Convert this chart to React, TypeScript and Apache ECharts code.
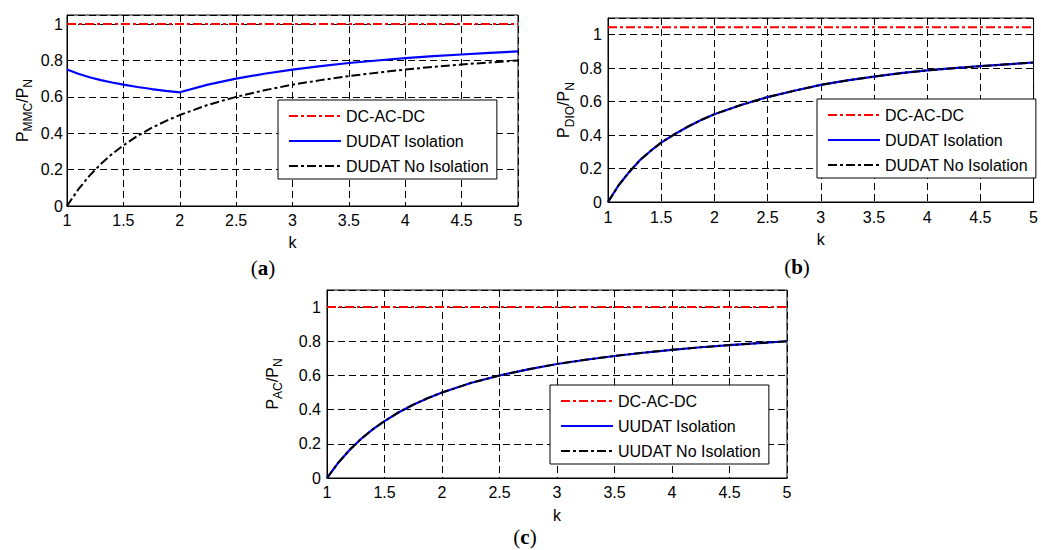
import React, { useEffect, useRef } from "react";
import * as echarts from "echarts";

// k values shared by the curves
const kCurve = [1, 1.1, 1.2, 1.3, 1.4, 1.5, 1.625, 1.75, 1.875, 2, 2.25, 2.5, 2.75, 3, 3.25, 3.5, 3.75, 4, 4.25, 4.5, 4.75, 5];
const kFlat = [1, 5];
const xTicks = ["1", "1.5", "2", "2.5", "3", "3.5", "4", "4.5", "5"];

// (a) MMC
const dcA = [1, 1];
const isoA = [0.75, 0.727, 0.708, 0.692, 0.679, 0.667, 0.654, 0.643, 0.633, 0.625, 0.667, 0.7, 0.727, 0.75, 0.769, 0.786, 0.8, 0.8125, 0.824, 0.833, 0.842, 0.85];
const noIsoA = [0, 0.091, 0.167, 0.231, 0.286, 0.333, 0.385, 0.429, 0.467, 0.5, 0.556, 0.6, 0.636, 0.667, 0.692, 0.714, 0.733, 0.75, 0.765, 0.778, 0.789, 0.8];

// (b) DIO
const dcB = [1.045, 1.045];
const isoB = [0, 0.1, 0.18, 0.25, 0.305, 0.355, 0.405, 0.45, 0.49, 0.525, 0.58, 0.627, 0.665, 0.7, 0.727, 0.75, 0.77, 0.787, 0.8, 0.812, 0.823, 0.834];
const noIsoB = [0, 0.1, 0.18, 0.25, 0.305, 0.355, 0.405, 0.45, 0.49, 0.525, 0.58, 0.627, 0.665, 0.7, 0.727, 0.75, 0.77, 0.787, 0.8, 0.812, 0.823, 0.834];

// (c) AC
const dcC = [1, 1];
const isoC = [0, 0.091, 0.167, 0.231, 0.286, 0.333, 0.385, 0.429, 0.467, 0.5, 0.556, 0.6, 0.636, 0.667, 0.692, 0.714, 0.733, 0.75, 0.765, 0.778, 0.789, 0.8];
const noIsoC = [0, 0.091, 0.167, 0.231, 0.286, 0.333, 0.385, 0.429, 0.467, 0.5, 0.556, 0.6, 0.636, 0.667, 0.692, 0.714, 0.733, 0.75, 0.765, 0.778, 0.789, 0.8];

const legendAB = ["DC-AC-DC", "DUDAT Isolation", "DUDAT No Isolation"];
const legendC = ["DC-AC-DC", "UUDAT Isolation", "UUDAT No Isolation"];

const FONT = "Liberation Sans";
const dashDot = [9, 3, 3, 3];

function pairs(ks: number[], vs: number[]) {
  return ks.map((k, i) => [k, vs[i]]);
}

function xAxis(gridIndex: number, nameGap: number, margin: number) {
  return {
    type: "value",
    gridIndex,
    min: 1,
    max: 5,
    interval: 0.5,
    name: "k",
    nameLocation: "middle",
    nameGap,
    nameTextStyle: { fontFamily: FONT, fontSize: 16, color: "#000" },
    axisLine: { show: true, lineStyle: { color: "#000", width: 1 } },
    axisTick: { show: false },
    axisLabel: {
      margin,
      fontFamily: FONT,
      fontSize: 16,
      color: "#000",
      formatter: (v: number) => xTicks[Math.round((v - 1) / 0.5)] ?? String(v),
    },
    splitLine: { show: true, lineStyle: { color: "#000", type: [7, 4], width: 1 } },
  };
}

function yAxis(gridIndex: number, max: number, sub: string, nameGap: number, margin: number) {
  return {
    type: "value",
    gridIndex,
    min: 0,
    max,
    interval: 0.2,
    name: `{m|P}{s|${sub}}{m|/P}{s|N}`,
    nameLocation: "middle",
    nameGap,
    nameTextStyle: {
      fontFamily: FONT,
      color: "#000",
      rich: {
        m: { fontFamily: FONT, fontSize: 16, color: "#000", lineHeight: 24, verticalAlign: "middle" },
        s: { fontFamily: FONT, fontSize: 12, color: "#000", lineHeight: 12, verticalAlign: "bottom" },
      },
    },
    axisLine: { show: true, lineStyle: { color: "#000", width: 1 } },
    axisTick: { show: false },
    axisLabel: {
      margin,
      fontFamily: FONT,
      fontSize: 16,
      color: "#000",
      showMaxLabel: false,
    },
    splitLine: { show: true, lineStyle: { color: "#000", type: [7, 4], width: 1 } },
  };
}

function seriesSet(idx: number, names: string[], dc: number[], iso: number[], noIso: number[]) {
  return [
    {
      type: "line",
      name: names[0],
      xAxisIndex: idx,
      yAxisIndex: idx,
      data: pairs(kFlat, dc),
      symbol: "none",
      lineStyle: { color: "#ff0000", width: 2, type: dashDot },
      itemStyle: { color: "#ff0000" },
    },
    {
      type: "line",
      name: names[1],
      xAxisIndex: idx,
      yAxisIndex: idx,
      data: pairs(kCurve, iso),
      symbol: "none",
      lineStyle: { color: "#0000ff", width: 2.2, type: "solid" },
      itemStyle: { color: "#0000ff" },
    },
    {
      type: "line",
      name: names[2],
      xAxisIndex: idx,
      yAxisIndex: idx,
      data: pairs(kCurve, noIso),
      symbol: "none",
      lineStyle: { color: "#000000", width: 2, type: dashDot },
      itemStyle: { color: "#000000" },
    },
  ];
}

function legend(data: string[], left: number, top: number) {
  return {
    data,
    left,
    top,
    orient: "vertical",
    itemWidth: 52,
    itemHeight: 14,
    itemGap: 9,
    padding: [8, 8, 5, 10],
    backgroundColor: "#fff",
    borderColor: "#000",
    borderWidth: 1,
    borderRadius: 0,
    selectedMode: false,
    itemStyle: { opacity: 0, color: "rgba(0,0,0,0)", borderWidth: 0 },
    textStyle: { fontFamily: FONT, fontSize: 16, color: "#000" },
  };
}

function panelLabel(letter: string, x: number, y: number) {
  return {
    type: "text",
    x,
    y,
    style: {
      text: `{p|(}{b|${letter}}{p|)}`,
      align: "center",
      verticalAlign: "middle",
      rich: {
        p: { fontFamily: "Liberation Serif", fontSize: 21, lineHeight: 22, color: "#000" },
        b: { fontFamily: "Liberation Serif", fontSize: 21, lineHeight: 22, fontWeight: "bold", color: "#000" },
      },
    },
  };
}

export default function App() {
  const ref = useRef<HTMLDivElement>(null);
  useEffect(() => {
    if (!ref.current) return;
    const chart = echarts.init(ref.current, undefined, { renderer: "svg" });
    chart.setOption({
      animation: false,
      backgroundColor: "#fff",
      grid: [
        { left: 67, top: 15, width: 451, height: 191, show: true, borderColor: "#000", borderWidth: 1, backgroundColor: "#fff" },
        { left: 608, top: 18, width: 436, height: 184, show: true, borderColor: "#000", borderWidth: 1, backgroundColor: "#fff" },
        { left: 327, top: 290, width: 460, height: 188, show: true, borderColor: "#000", borderWidth: 1, backgroundColor: "#fff" },
      ],
      xAxis: [xAxis(0, 28, 6), xAxis(1, 29, 7), xAxis(2, 29, 6)],
      yAxis: [
        yAxis(0, 1.05, "MMC", 33, 4),
        yAxis(1, 1.1, "DIO", 29, 6),
        yAxis(2, 1.1, "AC", 43, 6),
      ],
      legend: [legend(legendAB, 278, 100), legend(legendAB, 817, 99), legend(legendC, 550, 385)],
      series: [
        ...seriesSet(0, legendAB, dcA, isoA, noIsoA),
        ...seriesSet(1, legendAB, dcB, isoB, noIsoB),
        ...seriesSet(2, legendC, dcC, isoC, noIsoC),
      ],
      graphic: [panelLabel("a", 263, 268), panelLabel("b", 797, 267), panelLabel("c", 525, 537)],
    });
    return () => chart.dispose();
  }, []);
  return <div ref={ref} style={{ position: "absolute", left: 0, top: 0, width: 1041, height: 550 }} />;
}
